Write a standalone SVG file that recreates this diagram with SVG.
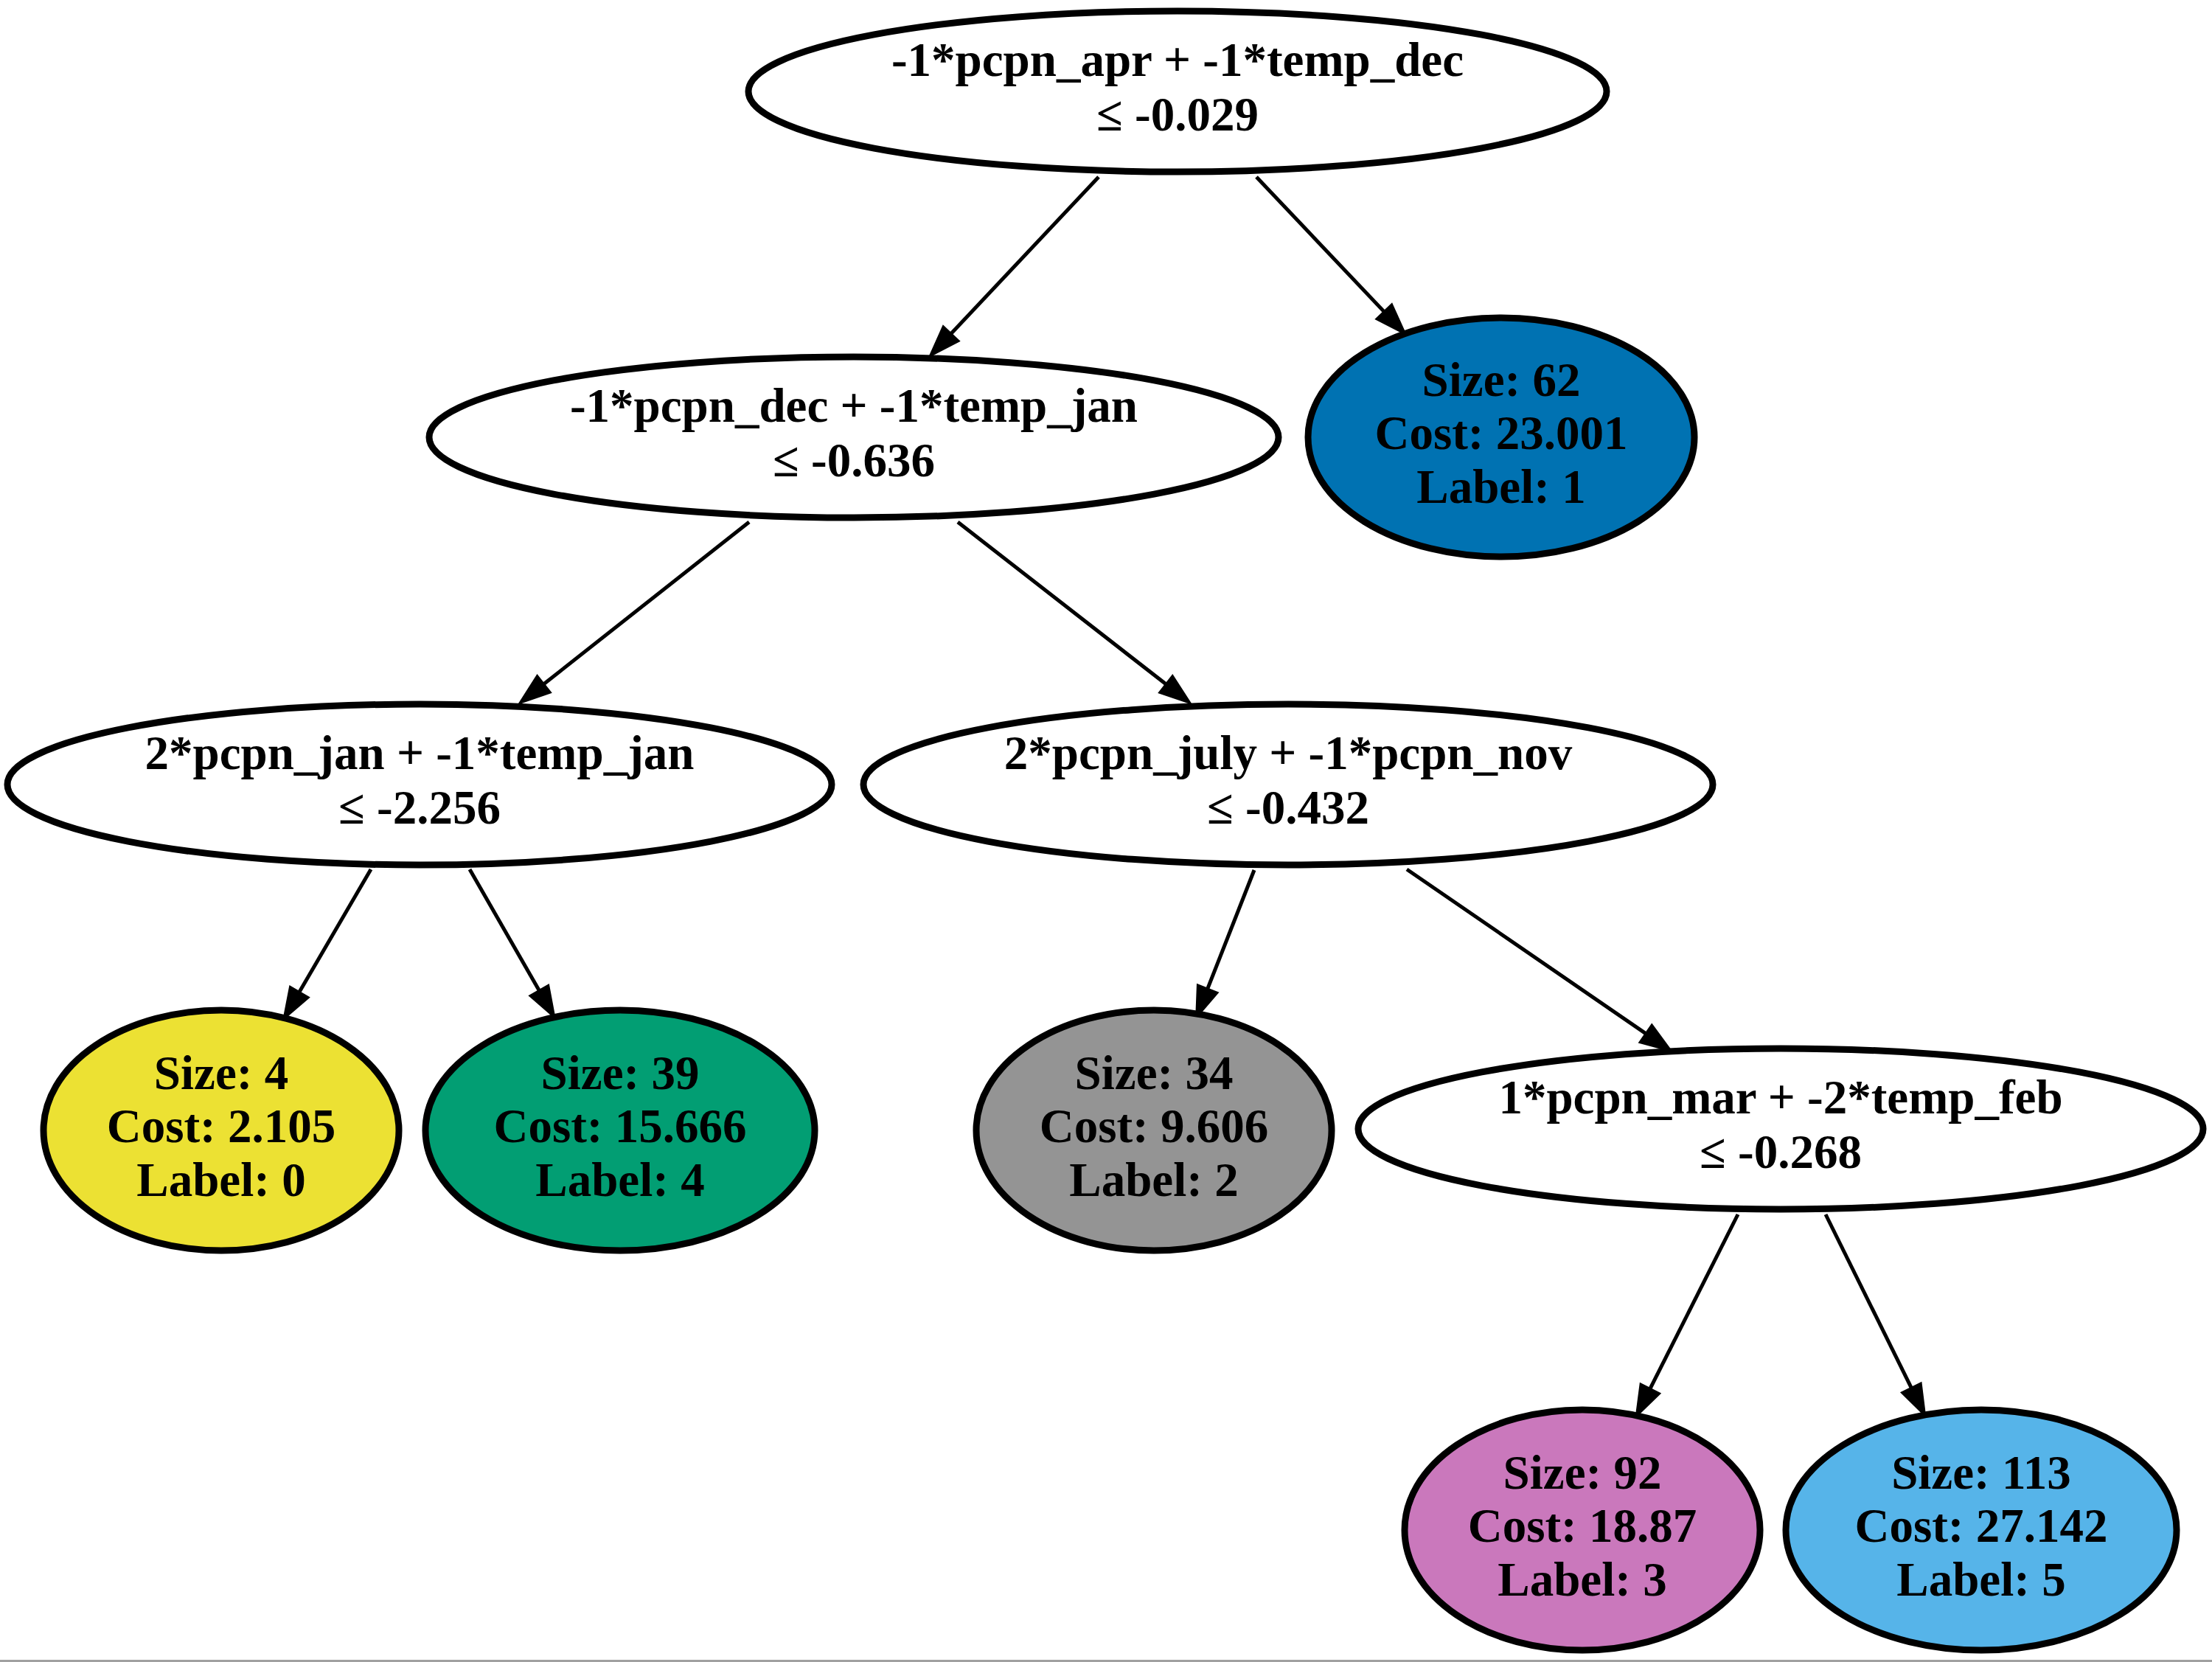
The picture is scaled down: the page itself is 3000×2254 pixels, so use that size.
<svg xmlns="http://www.w3.org/2000/svg" width="3000" height="2254" viewBox="0 0 3000 2254">
<style>
.nd{stroke:#000;stroke-width:9}
.t{font-family:"Liberation Serif","Times New Roman",serif;font-weight:bold;font-size:65px;text-anchor:middle;fill:#000}
.e{stroke:#000;stroke-width:5;fill:none}
</style>
<defs>
<marker id="ah" markerUnits="userSpaceOnUse" markerWidth="46" markerHeight="32" refX="32" refY="15" orient="auto" overflow="visible">
<path d="M0,0 L43,15 L0,30 Z" fill="#000" stroke="#000" stroke-width="2"/>
</marker>
</defs>
<rect x="0" y="0" width="3000" height="2254" fill="#fff"/>
<g id="edges">
<line class="e" x1="1490" y1="240" x2="1268.1" y2="475.6" marker-end="url(#ah)"/>
<line class="e" x1="1704" y1="240" x2="1898.9" y2="445.6" marker-end="url(#ah)"/>
<line class="e" x1="1016" y1="708" x2="712.7" y2="947.3" marker-end="url(#ah)"/>
<line class="e" x1="1299" y1="708" x2="1606.3" y2="947.3" marker-end="url(#ah)"/>
<line class="e" x1="503" y1="1179" x2="390" y2="1372.8" marker-end="url(#ah)"/>
<line class="e" x1="637" y1="1179" x2="747" y2="1370.8" marker-end="url(#ah)"/>
<line class="e" x1="1701" y1="1180" x2="1626.2" y2="1370.4" marker-end="url(#ah)"/>
<line class="e" x1="1908" y1="1179" x2="2258.1" y2="1419.6" marker-end="url(#ah)"/>
<line class="e" x1="2357" y1="1647" x2="2223.7" y2="1911.6" marker-end="url(#ah)"/>
<line class="e" x1="2476" y1="1647" x2="2606.3" y2="1910.6" marker-end="url(#ah)"/>
</g>
<g id="n0">
<ellipse class="nd" cx="1597" cy="124" rx="582" ry="109" fill="#fff"/>
<text class="t" x="1597" y="103">-1*pcpn_apr + -1*temp_dec</text>
<text class="t" x="1597" y="177">≤ -0.029</text>
</g>
<g id="n1">
<ellipse class="nd" cx="1158" cy="593" rx="576" ry="109" fill="#fff"/>
<text class="t" x="1158" y="572">-1*pcpn_dec + -1*temp_jan</text>
<text class="t" x="1158" y="646">≤ -0.636</text>
</g>
<g id="n2">
<ellipse class="nd" cx="2036" cy="593" rx="262" ry="162" fill="#0072b2"/>
<text class="t" x="2036" y="537">Size: 62</text>
<text class="t" x="2036" y="609">Cost: 23.001</text>
<text class="t" x="2036" y="682">Label: 1</text>
</g>
<g id="n3">
<ellipse class="nd" cx="569" cy="1064" rx="559" ry="109" fill="#fff"/>
<text class="t" x="569" y="1043">2*pcpn_jan + -1*temp_jan</text>
<text class="t" x="569" y="1117">≤ -2.256</text>
</g>
<g id="n4">
<ellipse class="nd" cx="1747" cy="1064" rx="576" ry="109" fill="#fff"/>
<text class="t" x="1747" y="1043">2*pcpn_july + -1*pcpn_nov</text>
<text class="t" x="1747" y="1117">≤ -0.432</text>
</g>
<g id="n5">
<ellipse class="nd" cx="300" cy="1533" rx="241" ry="163" fill="#ece133"/>
<text class="t" x="300" y="1477">Size: 4</text>
<text class="t" x="300" y="1549">Cost: 2.105</text>
<text class="t" x="300" y="1622">Label: 0</text>
</g>
<g id="n6">
<ellipse class="nd" cx="841" cy="1533" rx="264" ry="163" fill="#029e73"/>
<text class="t" x="841" y="1477">Size: 39</text>
<text class="t" x="841" y="1549">Cost: 15.666</text>
<text class="t" x="841" y="1622">Label: 4</text>
</g>
<g id="n7">
<ellipse class="nd" cx="1565" cy="1533" rx="241" ry="163" fill="#949494"/>
<text class="t" x="1565" y="1477">Size: 34</text>
<text class="t" x="1565" y="1549">Cost: 9.606</text>
<text class="t" x="1565" y="1622">Label: 2</text>
</g>
<g id="n8">
<ellipse class="nd" cx="2415" cy="1531" rx="573" ry="109" fill="#fff"/>
<text class="t" x="2415" y="1510">1*pcpn_mar + -2*temp_feb</text>
<text class="t" x="2415" y="1584">≤ -0.268</text>
</g>
<g id="n9">
<ellipse class="nd" cx="2146" cy="2075" rx="241" ry="163" fill="#ca78bc"/>
<text class="t" x="2146" y="2019">Size: 92</text>
<text class="t" x="2146" y="2091">Cost: 18.87</text>
<text class="t" x="2146" y="2164">Label: 3</text>
</g>
<g id="n10">
<ellipse class="nd" cx="2687" cy="2075" rx="265" ry="163" fill="#56b4e9"/>
<text class="t" x="2687" y="2019">Size: 113</text>
<text class="t" x="2687" y="2091">Cost: 27.142</text>
<text class="t" x="2687" y="2164">Label: 5</text>
</g>
<rect x="0" y="2251" width="3000" height="3" fill="#a0a0a0"/>
</svg>
